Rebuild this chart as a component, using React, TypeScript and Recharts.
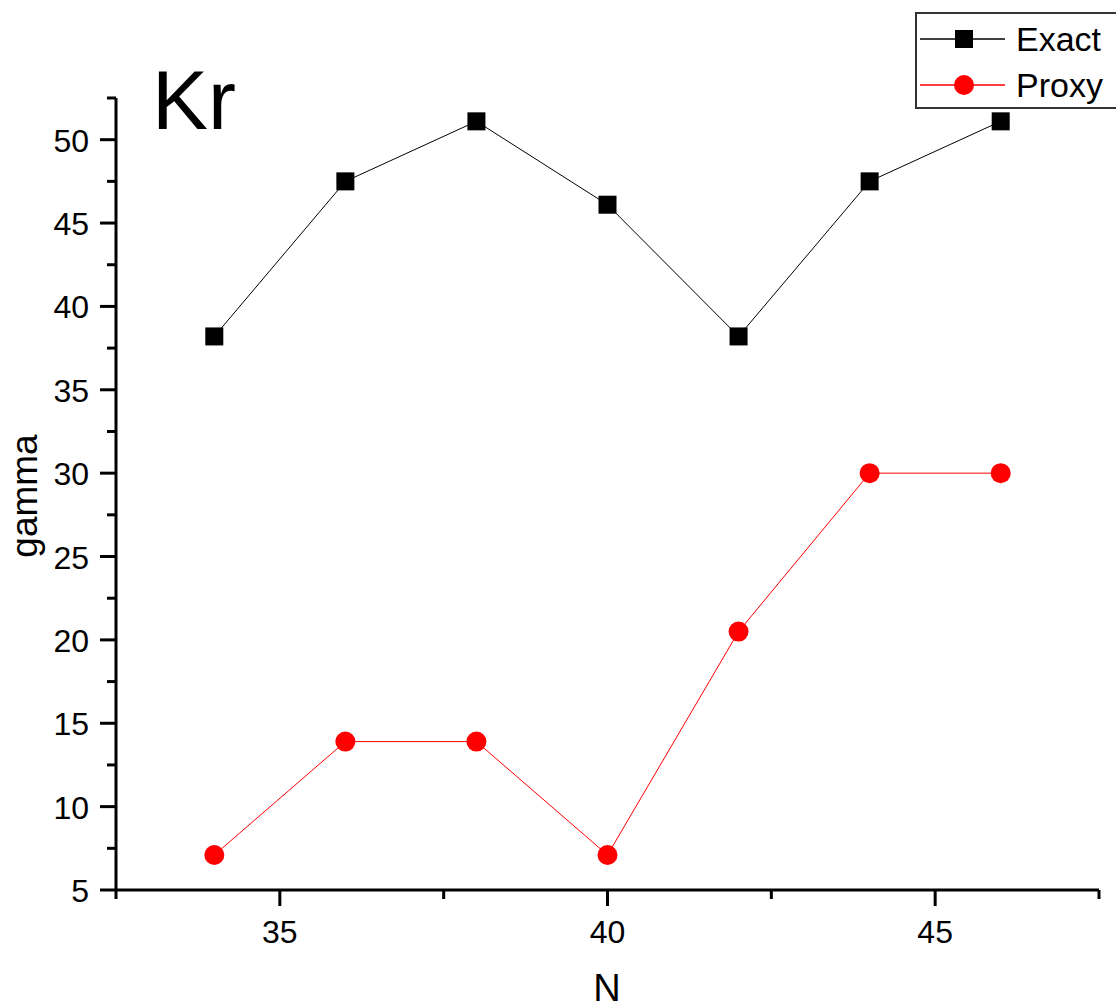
import { LineChart, Line, XAxis, YAxis } from 'recharts'

const nValues = [34, 36, 38, 40, 42, 44, 46]
const exactValues = [38.2, 47.5, 51.1, 46.1, 38.2, 47.5, 51.1]
const proxyValues = [7.1, 13.9, 13.9, 7.1, 20.5, 30.0, 30.0]

const xTicks = [32.5, 35, 37.5, 40, 42.5, 45, 47.5]
const yTicks = [5, 7.5, 10, 12.5, 15, 17.5, 20, 22.5, 25, 27.5, 30, 32.5, 35, 37.5, 40, 42.5, 45, 47.5, 50, 52.5]

const data = nValues.map((n, i) => ({ n, exact: exactValues[i], proxy: proxyValues[i] }))

const FONT = '"Liberation Sans", Arial, sans-serif'

const XTick = ({ x, y, payload }: any) => {
  const v = payload.value
  const major = v % 5 === 0
  return (
    <g>
      <line x1={x} y1={y} x2={x} y2={y + (major ? 16 : 9)} stroke="#000" strokeWidth={3} />
      {major && (
        <text x={x} y={y + 53} textAnchor="middle" fontSize={32} fontFamily={FONT} fill="#000">
          {v}
        </text>
      )}
    </g>
  )
}

const YTick = ({ x, y, payload }: any) => {
  const v = payload.value
  const major = v % 5 === 0
  return (
    <g>
      <line x1={x} y1={y} x2={x - (major ? 16 : 9)} y2={y} stroke="#000" strokeWidth={3} />
      {major && (
        <text x={x - 27} y={y + 12} textAnchor="end" fontSize={32} fontFamily={FONT} fill="#000">
          {v}
        </text>
      )}
    </g>
  )
}

const SquareDot = ({ cx, cy, index }: any) => (
  <rect key={`s${index}`} x={cx - 9} y={cy - 9} width={18} height={18} fill="#000" />
)

const CircleDot = ({ cx, cy, index }: any) => (
  <circle key={`c${index}`} cx={cx} cy={cy} r={10} fill="#ff0000" />
)

// legend drawn by hand, it sits over the top right corner like the original
const LegendBox = () => (
  <div
    style={{
      position: 'absolute',
      left: 915,
      top: 12,
      border: '2px solid #333',
      width: 230,
      height: 97,
      boxSizing: 'border-box',
      background: '#fff',
    }}
  >
    <svg width={230} height={95} style={{ display: 'block' }}>
      <line x1={3} y1={25} x2={88} y2={25} stroke="#000" strokeWidth={1.5} />
      <rect x={38} y={16} width={18} height={18} fill="#000" />
      <text x={99} y={37} fontSize={34} fontFamily={FONT} fill="#000">Exact</text>
      <line x1={3} y1={71} x2={88} y2={71} stroke="#ff0000" strokeWidth={1.5} />
      <circle cx={47} cy={71} r={10} fill="#ff0000" />
      <text x={99} y={83} fontSize={34} fontFamily={FONT} fill="#000">Proxy</text>
    </svg>
  </div>
)

export default function App() {
  return (
    <div style={{ position: 'absolute', left: 0, top: 0, width: 1116, height: 1006, overflow: 'hidden', background: '#fff' }}>
      <LineChart width={1116} height={1006} data={data} margin={{ top: 98, right: 17, left: 0, bottom: 0 }}>
        <XAxis
          dataKey="n"
          type="number"
          domain={[32.5, 47.5]}
          ticks={xTicks}
          tick={<XTick />}
          tickLine={false}
          tickSize={0}
          tickMargin={0}
          height={116}
          axisLine={{ stroke: '#000', strokeWidth: 3 }}
          allowDataOverflow
        />
        <YAxis
          type="number"
          domain={[5, 52.5]}
          ticks={yTicks}
          tick={<YTick />}
          tickLine={false}
          tickSize={0}
          tickMargin={0}
          width={116}
          axisLine={{ stroke: '#000', strokeWidth: 3 }}
          allowDataOverflow
        />
        <Line
          dataKey="exact"
          stroke="#000"
          strokeWidth={1}
          dot={<SquareDot />}
          activeDot={false}
          isAnimationActive={false}
        />
        <Line
          dataKey="proxy"
          stroke="#ff0000"
          strokeWidth={1}
          dot={<CircleDot />}
          activeDot={false}
          isAnimationActive={false}
        />
      </LineChart>
      <LegendBox />
      <div style={{ position: 'absolute', left: 152, top: 50, fontFamily: FONT, fontSize: 84, lineHeight: '100px', color: '#000' }}>
        Kr
      </div>
      <div
        style={{
          position: 'absolute',
          left: 25,
          top: 496,
          transform: 'translate(-50%, -50%) rotate(-90deg)',
          fontFamily: FONT,
          fontSize: 37,
          lineHeight: '40px',
          color: '#000',
          whiteSpace: 'nowrap',
        }}
      >
        gamma
      </div>
      <div style={{ position: 'absolute', left: 607, top: 988, transform: 'translate(-50%, -50%)', fontFamily: FONT, fontSize: 38, lineHeight: '30px', color: '#000' }}>
        N
      </div>
    </div>
  )
}
